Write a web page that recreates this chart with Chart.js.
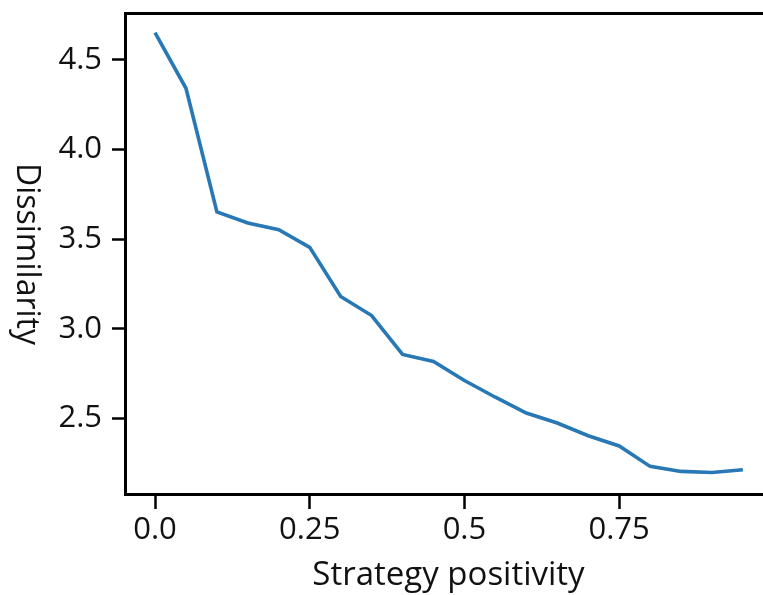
<!DOCTYPE html>
<html>
<head>
<meta charset="utf-8">
<script src="https://cdn.jsdelivr.net/npm/chart.js@4"></script>
<style>
html,body{margin:0;padding:0;background:#fff;overflow:hidden;}
#wrap{width:763px;height:595px;overflow:hidden;position:relative;}
canvas{display:block;}
</style>
</head>
<body>
<div id="wrap"><canvas id="c" width="772" height="595"></canvas></div>
<script>
const positivity = [0.00,0.05,0.10,0.15,0.20,0.25,0.30,0.35,0.40,0.45,0.50,0.55,0.60,0.65,0.70,0.75,0.80,0.85,0.90,0.95];
const dissimilarity = [4.652,4.342,3.652,3.590,3.553,3.454,3.180,3.074,2.857,2.818,2.711,2.618,2.530,2.474,2.403,2.346,2.232,2.204,2.198,2.213];
const xTickValues = [0, 0.25, 0.5, 0.75];
const xTickLabels = ["0.0", "0.25", "0.5", "0.75"];
const yTickValues = [2.5, 3.0, 3.5, 4.0, 4.5];
const yTickLabels = ["2.5", "3.0", "3.5", "4.0", "4.5"];
const xTitle = "Strategy positivity";
const yTitle = "Dissimilarity";

const FONT = "'Open Sans', 'Noto Sans', sans-serif";

function noPad(s) {
  s.paddingTop = 0; s.paddingBottom = 0; s.paddingLeft = 0; s.paddingRight = 0;
}

const yLabelPlugin = {
  id: 'yLabelCW',
  afterDraw(chart) {
    const ctx = chart.ctx;
    ctx.save();
    ctx.translate(26, 254);
    ctx.rotate(Math.PI / 2);
    ctx.font = "32px " + FONT;
    ctx.fillStyle = '#111';
    ctx.textAlign = 'center';
    ctx.textBaseline = 'middle';
    ctx.fillText(yTitle, 0, 0);
    ctx.restore();
  }
};

new Chart(document.getElementById('c'), {
  type: 'line',
  data: {
    datasets: [{
      data: positivity.map((x, i) => ({x: x, y: dissimilarity[i]})),
      borderColor: '#2878b5',
      borderWidth: 3.6,
      pointRadius: 0,
      tension: 0,
      fill: false
    }]
  },
  options: {
    responsive: false,
    animation: false,
    layout: {padding: {left: 0, right: 0, top: 0, bottom: 0}},
    plugins: {legend: {display: false}, tooltip: {enabled: false}},
    scales: {
      x: {
        type: 'linear',
        position: 'bottom',
        min: -0.0485,
        max: 0.997,
        afterBuildTicks: (s) => { s.ticks = xTickValues.map(v => ({value: v})); },
        afterFit: (s) => { s.height = 101; noPad(s); },
        ticks: {
          callback: (v) => { const i = xTickValues.indexOf(v); return i >= 0 ? xTickLabels[i] : ''; },
          font: {size: 31, family: FONT},
          color: '#111',
          padding: 3,
          maxRotation: 0,
          autoSkip: false
        },
        grid: {drawOnChartArea: false, drawTicks: true, tickLength: 15, tickWidth: 2.5, tickColor: '#000'},
        border: {display: true, color: '#000', width: 3},
        title: {display: true, text: xTitle, font: {size: 33, family: FONT}, color: '#111', padding: {top: 0, bottom: 0}}
      },
      x2: {
        type: 'linear',
        position: 'top',
        min: -0.0485,
        max: 0.997,
        afterFit: (s) => { s.height = 13; noPad(s); },
        ticks: {display: false},
        grid: {display: false, drawOnChartArea: false, drawTicks: false},
        border: {display: true, color: '#000', width: 3}
      },
      y: {
        type: 'linear',
        position: 'left',
        min: 2.078,
        max: 4.762,
        afterBuildTicks: (s) => { s.ticks = yTickValues.map(v => ({value: v})); },
        afterFit: (s) => { s.width = 125; noPad(s); },
        ticks: {
          callback: (v) => { const i = yTickValues.indexOf(v); return i >= 0 ? yTickLabels[i] : ''; },
          font: {size: 31, family: FONT},
          color: '#111',
          padding: 10,
          autoSkip: false
        },
        grid: {drawOnChartArea: false, drawTicks: true, tickLength: 13, tickWidth: 2.5, tickColor: '#000'},
        border: {display: true, color: '#000', width: 3}
      }
    }
  },
  plugins: [yLabelPlugin]
});
</script>
</body>
</html>
